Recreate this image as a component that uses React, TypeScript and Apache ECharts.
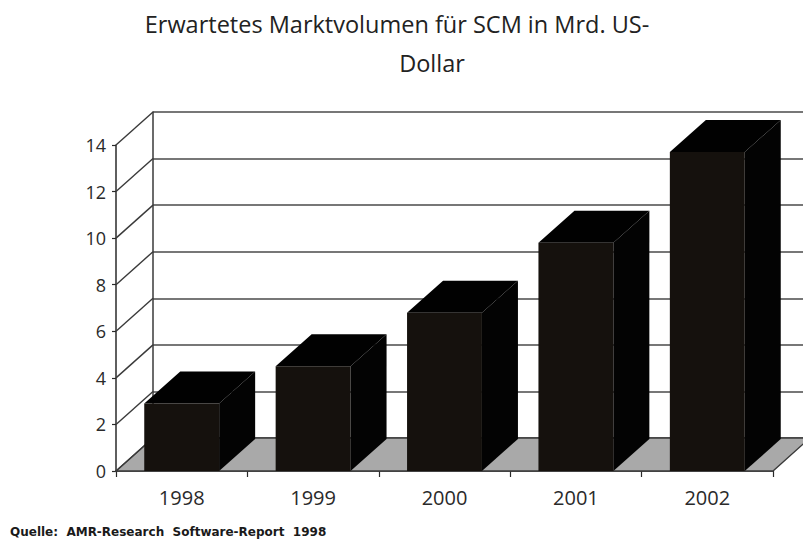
import React, { useEffect, useRef } from "react";
import * as echarts from "echarts";

const categories = ["1998", "1999", "2000", "2001", "2002"];
const marketVolume = [2.9, 4.5, 6.8, 9.8, 13.7];
const yTicks = [0, 2, 4, 6, 8, 10, 12, 14];
const titleLine1 = "Erwartetes Marktvolumen für SCM in Mrd. US-";
const titleLine2 = "Dollar";
const sourceText = "Quelle:  AMR-Research  Software-Report  1998";

// layout (front plane grid and back wall grid)
const FRONT = { left: 116, top: 145, width: 657, height: 326 };
const BACK = { left: 153, top: 112, width: 657, height: 326 };
const DXW = BACK.left - FRONT.left;
const DYW = BACK.top - FRONT.top;
const DXB = 36;
const DYB = -32;
const BAR_RATIO = 0.57;

export default function App() {
  const ref = useRef<HTMLDivElement>(null);
  useEffect(() => {
    if (!ref.current) return;
    const chart = echarts.init(ref.current, null, { renderer: "svg" });
    const font = "'Open Sans', sans-serif";
    chart.setOption({
      animation: false,
      backgroundColor: "#ffffff",
      grid: [
        { ...FRONT, containLabel: false },
        { ...BACK, containLabel: false },
      ],
      xAxis: [
        {
          type: "category",
          gridIndex: 0,
          data: categories,
          boundaryGap: true,
          axisLine: { show: true, lineStyle: { color: "#2a2a2a", width: 1.5 } },
          axisTick: { show: true, length: 6, alignWithLabel: false, lineStyle: { color: "#2a2a2a", width: 1.2 } },
          axisLabel: { color: "#2a2a2a", fontFamily: font, fontSize: 20, margin: 16 },
          splitLine: { show: false },
        },
        {
          type: "category",
          gridIndex: 1,
          data: categories,
          show: false,
        },
      ],
      yAxis: [
        {
          type: "value",
          gridIndex: 0,
          min: 0,
          max: 14,
          interval: 2,
          axisLine: { show: true, lineStyle: { color: "#2a2a2a", width: 1.5 } },
          axisTick: { show: true, length: 4, lineStyle: { color: "#2a2a2a", width: 1.2 } },
          axisLabel: { color: "#2a2a2a", fontFamily: font, fontSize: 18, margin: 10 },
          splitLine: { show: false },
        },
        {
          type: "value",
          gridIndex: 1,
          min: 0,
          max: 14,
          interval: 2,
          axisLine: { show: true, lineStyle: { color: "#3a3a3a", width: 1.5 } },
          axisTick: { show: false },
          axisLabel: { show: false },
          splitLine: { show: true, lineStyle: { color: "#4a4a4a", width: 1.5 } },
        },
      ],
      graphic: [
        {
          type: "text",
          x: 397,
          y: 24,
          style: {
            text: titleLine1,
            fontFamily: font,
            fontSize: 23.5,
            fill: "#222",
            textAlign: "center",
            textVerticalAlign: "middle",
          },
        },
        {
          type: "text",
          x: 432,
          y: 63,
          style: {
            text: titleLine2,
            fontFamily: font,
            fontSize: 23.5,
            fill: "#222",
            textAlign: "center",
            textVerticalAlign: "middle",
          },
        },
        {
          type: "text",
          x: 10,
          y: 532,
          style: {
            text: sourceText,
            fontFamily: "'DejaVu Sans', sans-serif",
            fontWeight: "bold",
            fontSize: 12,
            fill: "#1a1a1a",
            textVerticalAlign: "middle",
          },
        },
      ],
      series: [
        {
          name: "floor",
          type: "custom",
          xAxisIndex: 0,
          yAxisIndex: 0,
          z: 1,
          data: [[0, 0]],
          renderItem: (params: any, api: any) => {
            const cs = params.coordSys;
            const y0 = api.coord([0, 0])[1];
            const xl = cs.x;
            const xr = cs.x + cs.width;
            return {
              type: "polygon",
              shape: {
                points: [
                  [xl, y0],
                  [xr, y0],
                  [xr + DXW, y0 + DYW],
                  [xl + DXW, y0 + DYW],
                ],
              },
              style: { fill: "#a9a9a9", stroke: "#3a3a3a", lineWidth: 1.3 },
            };
          },
        },
        {
          name: "diagonals",
          type: "custom",
          xAxisIndex: 0,
          yAxisIndex: 0,
          z: 2,
          data: yTicks.map((v) => [0, v]),
          renderItem: (params: any, api: any) => {
            const cs = params.coordSys;
            const y = api.coord([0, api.value(1)])[1];
            return {
              type: "line",
              shape: { x1: cs.x, y1: y, x2: cs.x + DXW, y2: y + DYW },
              style: { stroke: "#3a3a3a", lineWidth: 1.4 },
            };
          },
        },
        {
          name: "Marktvolumen",
          type: "custom",
          xAxisIndex: 0,
          yAxisIndex: 0,
          z: 3,
          data: marketVolume.map((v, i) => [i, v]),
          renderItem: (params: any, api: any) => {
            const i = api.value(0);
            const v = api.value(1);
            const base = api.coord([i, 0]);
            const top = api.coord([i, v]);
            const w = api.size([1, 0])[0] * BAR_RATIO;
            const x0 = base[0] - w / 2;
            const x1 = base[0] + w / 2;
            const y0 = base[1];
            const y1 = top[1];
            return {
              type: "group",
              children: [
                {
                  type: "polygon",
                  shape: {
                    points: [
                      [x1, y0],
                      [x1 + DXB, y0 + DYB],
                      [x1 + DXB, y1 + DYB],
                      [x1, y1],
                    ],
                  },
                  style: { fill: "#030303" },
                },
                {
                  type: "polygon",
                  shape: {
                    points: [
                      [x0, y1],
                      [x0 + DXB, y1 + DYB],
                      [x1 + DXB, y1 + DYB],
                      [x1, y1],
                    ],
                  },
                  style: { fill: "#010101" },
                },
                {
                  type: "rect",
                  shape: { x: x0, y: y1, width: w, height: y0 - y1 },
                  style: { fill: "#15110d" },
                },
              ],
            };
          },
        },
      ],
    });
    return () => chart.dispose();
  }, []);
  return (
    <div
      ref={ref}
      style={{ position: "fixed", left: 0, top: 0, width: 803, height: 542, background: "#fff" }}
    />
  );
}
